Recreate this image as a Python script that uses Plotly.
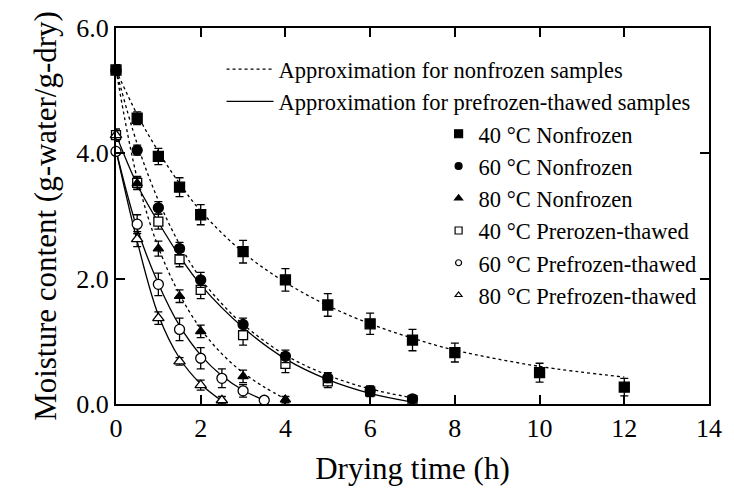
import plotly.graph_objects as go

t_40nf = [0, 0.5, 1, 1.5, 2, 3, 4, 5, 6, 7, 8, 10, 12]
m_40nf = [5.33, 4.56, 3.95, 3.46, 3.02, 2.43, 1.98, 1.58, 1.28, 1.02, 0.82, 0.50, 0.27]
e_40nf = [0.08, 0.10, 0.13, 0.15, 0.16, 0.18, 0.18, 0.18, 0.17, 0.17, 0.15, 0.15, 0.14]

t_60nf = [0, 0.5, 1, 1.5, 2, 3, 4, 5, 6, 7]
m_60nf = [5.33, 4.05, 3.13, 2.48, 1.98, 1.27, 0.76, 0.42, 0.21, 0.08]
e_60nf = [0.08, 0.08, 0.10, 0.10, 0.12, 0.10, 0.10, 0.08, 0.08, 0.06]

t_80nf = [0, 0.5, 1, 1.5, 2, 3, 4]
m_80nf = [5.33, 3.52, 2.48, 1.72, 1.16, 0.44, 0.07]
e_80nf = [0.08, 0.10, 0.12, 0.10, 0.10, 0.10, 0.05]

t_40pt = [0, 0.5, 1, 1.5, 2, 3, 4, 5, 6, 7]
m_40pt = [4.29, 3.53, 2.91, 2.31, 1.82, 1.10, 0.64, 0.36, 0.20, 0.06]
e_40pt = [0.10, 0.10, 0.12, 0.12, 0.14, 0.16, 0.14, 0.10, 0.08, 0.05]

t_60pt = [0, 0.5, 1, 1.5, 2, 2.5, 3, 3.5]
m_60pt = [4.03, 2.87, 1.91, 1.19, 0.73, 0.41, 0.21, 0.06]
e_60pt = [0.05, 0.15, 0.18, 0.18, 0.17, 0.15, 0.10, 0.05]

t_80pt = [0, 0.5, 1, 1.5, 2, 2.5]
m_80pt = [4.29, 2.63, 1.37, 0.68, 0.30, 0.06]
e_80pt = [0.08, 0.12, 0.10, 0.06, 0.08, 0.06]

# ---- approximation curves ----
ct_40nf = [0, 0.5, 1, 1.5, 2, 3, 4, 5, 6, 7, 8, 10, 12]
cy_40nf = [5.33, 4.62, 4.03, 3.52, 3.08, 2.42, 1.94, 1.57, 1.28, 1.05, 0.86, 0.60, 0.43]
ct_60nf = [0, 0.5, 1, 1.5, 2, 2.5, 3, 4, 5, 6, 7]
cy_60nf = [5.33, 4.15, 3.25, 2.55, 2.00, 1.60, 1.27, 0.78, 0.46, 0.24, 0.10]
ct_80nf = [0, 0.5, 1, 1.5, 2, 2.5, 3, 3.5, 4]
cy_80nf = [5.33, 3.60, 2.50, 1.75, 1.20, 0.80, 0.50, 0.27, 0.08]
ct_40pt = [0, 0.5, 1, 1.5, 2, 3, 4, 5, 6, 7]
cy_40pt = [4.30, 3.50, 2.90, 2.36, 1.90, 1.22, 0.72, 0.39, 0.17, 0.03]
ct_60pt = [0, 0.5, 1, 1.5, 2, 2.5, 3, 3.5]
cy_60pt = [4.05, 2.80, 1.92, 1.25, 0.78, 0.45, 0.22, 0.06]
ct_80pt = [0, 0.5, 1, 1.5, 2, 2.5]
cy_80pt = [4.05, 2.60, 1.42, 0.73, 0.32, 0.05]

x_ticks = [0, 2, 4, 6, 8, 10, 12, 14]
y_ticks = [0, 2, 4, 6]

FONT = "Liberation Serif"
fig = go.Figure()

# curves
curves = [
    (ct_40nf, cy_40nf, "3px,3px", "Approximation for nonfrozen samples", True),
    (ct_60nf, cy_60nf, "3px,3px", "", False),
    (ct_80nf, cy_80nf, "3px,3px", "", False),
    (ct_40pt, cy_40pt, "solid", "Approximation for prefrozen-thawed samples", True),
    (ct_60pt, cy_60pt, "solid", "", False),
    (ct_80pt, cy_80pt, "solid", "", False),
]
for i, (cx, cy, dash, name, sl) in enumerate(curves):
    fig.add_trace(go.Scatter(
        x=cx, y=cy, mode="lines", name=name, showlegend=sl,
        legend="legend", legendgroup="c%d" % i,
        line=dict(color="black", width=1.3, dash=dash, shape="spline", smoothing=1.0),
        hoverinfo="skip", cliponaxis=False))

# data markers
series = [
    (t_40pt, m_40pt, e_40pt, "square", "white", 9, "40 °C Prerozen-thawed", 7),
    (t_60pt, m_60pt, e_60pt, "circle", "white", 10, "60 °C Prefrozen-thawed", 6),
    (t_80pt, m_80pt, e_80pt, "triangle-up", "white", 10, "80 °C Prefrozen-thawed", 6),
    (t_40nf, m_40nf, e_40nf, "square", "black", 10, "40 °C Nonfrozen", 8),
    (t_60nf, m_60nf, e_60nf, "circle", "black", 10, "60 °C Nonfrozen", 7),
    (t_80nf, m_80nf, e_80nf, "triangle-up", "black", 9, "80 °C Nonfrozen", 7),
]
for tx, my, ey, sym, fill, sz, name, lsz in series:
    fig.add_trace(go.Scatter(
        x=tx, y=my, mode="markers", showlegend=False,
        marker=dict(symbol=sym, size=sz, color=fill, line=dict(color="black", width=1.3)),
        error_y=dict(type="data", array=ey, visible=True, color="black", thickness=1.3, width=4),
        cliponaxis=False))

# legend-only entries (small markers as in the reference legend)
legend_order = [3, 4, 5, 0, 1, 2]
for k, idx in enumerate(legend_order):
    tx, my, ey, sym, fill, sz, name, lsz = series[idx]
    fig.add_trace(go.Scatter(
        x=[None], y=[None], mode="markers", name=name, legend="legend2",
        legendgroup="m%d" % k,
        marker=dict(symbol=sym, size=lsz, color=fill, line=dict(color="black", width=1.2))))

axis_common = dict(
    showline=True, linecolor="black", linewidth=2, mirror="ticks",
    ticks="inside", ticklen=9, tickwidth=2, tickcolor="black",
    showgrid=False, zeroline=False,
    tickfont=dict(family=FONT, size=26, color="black"),
)

fig.update_layout(
    width=734, height=497,
    margin=dict(l=116, r=15, t=28, b=93),
    plot_bgcolor="white", paper_bgcolor="white",
    font=dict(family=FONT, color="black"),
    xaxis=dict(range=[0, 14], tickvals=x_ticks, **axis_common,
               title=dict(text="Drying time (h)", font=dict(family=FONT, size=31), standoff=15)),
    yaxis=dict(range=[0, 6], tickvals=y_ticks, tickformat=".1f", **axis_common,
               title=dict(text="Moisture content (g-water/g-dry)", font=dict(family=FONT, size=31), standoff=10)),
    legend=dict(x=0.178, y=0.947, xanchor="left", yanchor="top", bgcolor="rgba(0,0,0,0)",
                font=dict(family=FONT, size=22.5, color="black"), itemwidth=47,
                traceorder="normal", tracegroupgap=0),
    legend2=dict(x=0.544, y=0.775, xanchor="left", yanchor="top", bgcolor="rgba(0,0,0,0)",
                 font=dict(family=FONT, size=22.5, color="black"), itemwidth=30,
                 traceorder="normal", tracegroupgap=0),
    showlegend=True,
)

fig.write_html("out.html")
